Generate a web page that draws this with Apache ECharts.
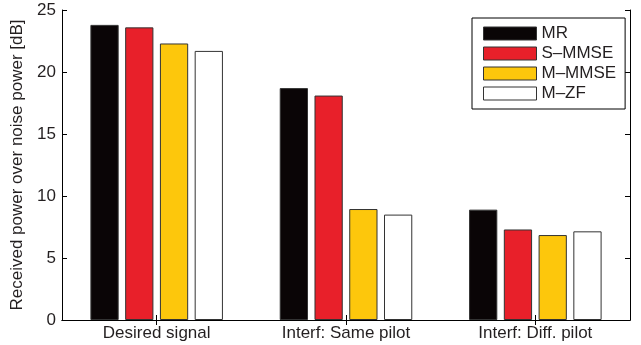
<!DOCTYPE html>
<html>
<head>
<meta charset="utf-8">
<script src="https://cdn.jsdelivr.net/npm/echarts@6/dist/echarts.min.js"></script>
<style>html,body{margin:0;padding:0;background:#fff;}#c{width:641px;height:345px;}</style>
</head>
<body>
<div id="c"></div>
<script>
const categories = ['Desired signal', 'Interf: Same pilot', 'Interf: Diff. pilot'];
const seriesNames = ['MR', 'S–MMSE', 'M–MMSE', 'M–ZF'];
const mrValues = [23.8, 18.7, 8.9];
const smmseValues = [23.6, 18.1, 7.3];
const mmmseValues = [22.3, 8.95, 6.85];
const mzfValues = [21.7, 8.5, 7.15];
const yTicks = [0, 5, 10, 15, 20, 25];

const colors = ['#0a0506', '#e8202a', '#fdc70c', '#ffffff'];
const allValues = [mrValues, smmseValues, mmmseValues, mzfValues];
const font = "'Liberation Sans', Arial, Helvetica, sans-serif";
const textColor = '#231f20';
const fs = 17;

const chart = echarts.init(document.getElementById('c'), null, {renderer: 'canvas'});
chart.setOption({
  animation: false,
  backgroundColor: '#fff',
  grid: {left: 62, right: 11, top: 10, bottom: 25, containLabel: false},
  legend: {
    orient: 'vertical',
    left: 472, top: 18,
    padding: [7, 9, 7, 11],
    itemWidth: 53, itemHeight: 13, itemGap: 3,
    borderColor: '#000', borderWidth: 1,
    backgroundColor: '#fff',
    icon: 'rect',
    textStyle: {fontFamily: font, fontSize: fs, color: textColor},
    itemStyle: {borderColor: '#333', borderWidth: 1},
    data: seriesNames
  },
  xAxis: [
    {
      type: 'category', data: categories, position: 'bottom',
      axisLine: {lineStyle: {color: '#000', width: 1}},
      axisTick: {show: true, alignWithLabel: true, inside: true, length: 5, lineStyle: {color: '#000'}},
      axisLabel: {fontFamily: font, fontSize: fs, color: textColor, margin: 5}
    },
    {
      type: 'category', data: categories, position: 'top',
      axisLine: {show: true, lineStyle: {color: '#000', width: 1}},
      axisTick: {show: true, alignWithLabel: true, inside: true, length: 5, lineStyle: {color: '#000'}},
      axisLabel: {show: false}
    }
  ],
  yAxis: [
    {
      type: 'value', min: yTicks[0], max: yTicks[yTicks.length - 1], interval: 5, position: 'left',
      name: 'Received power over noise power [dB]', nameLocation: 'middle', nameGap: 34,
      nameTextStyle: {fontFamily: font, fontSize: fs, color: textColor},
      axisLine: {show: true, lineStyle: {color: '#000', width: 1}},
      axisTick: {show: true, inside: true, length: 5, lineStyle: {color: '#000'}},
      axisLabel: {fontFamily: font, fontSize: fs, color: textColor, margin: 6},
      splitLine: {show: false}
    },
    {
      type: 'value', min: yTicks[0], max: yTicks[yTicks.length - 1], interval: 5, position: 'right',
      axisLine: {show: true, lineStyle: {color: '#000', width: 1}},
      axisTick: {show: true, inside: true, length: 5, lineStyle: {color: '#000'}},
      axisLabel: {show: false},
      splitLine: {show: false}
    }
  ],
  series: seriesNames.map((name, i) => ({
    name: name,
    type: 'bar',
    xAxisIndex: 0, yAxisIndex: 0,
    data: allValues[i],
    barGap: '23%',
    barCategoryGap: '30%',
    itemStyle: {color: colors[i], borderColor: '#333', borderWidth: 1}
  }))
});
</script>
</body>
</html>
